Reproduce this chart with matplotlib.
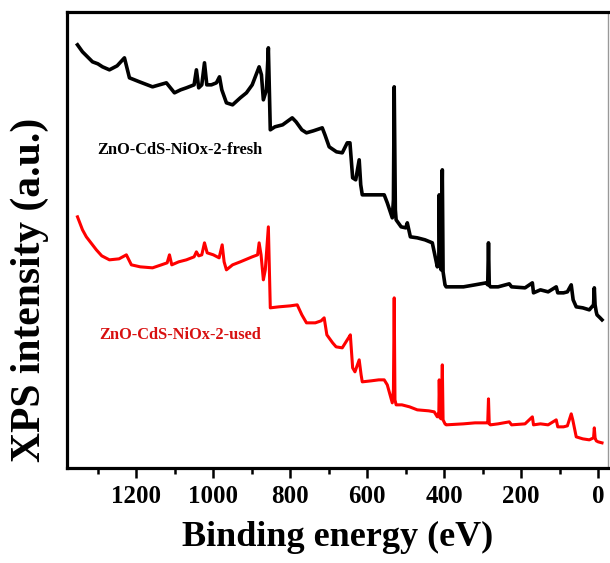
import matplotlib
matplotlib.use("Agg")
import matplotlib.pyplot as plt
from matplotlib.ticker import MultipleLocator

plt.rcParams['font.family'] = ['Liberation Serif', 'DejaVu Serif']
plt.rcParams['font.weight'] = 'bold'

# survey spectra (binding energy in eV, intensity in a.u.)
fresh_ev = [1353, 1340, 1314, 1300, 1288, 1270, 1250, 1231, 1218, 1192, 1158, 1140,
            1122, 1101, 1085, 1070, 1050, 1044, 1038, 1030, 1023, 1017, 1005, 992,
            984, 978, 966, 950, 930, 914, 899, 881, 875, 870, 862, 857, 852, 840,
            820, 795, 785, 770, 758, 740, 717, 710, 699, 680, 665, 652, 645, 638,
            630, 621, 617, 613, 590, 570, 556, 548, 535, 532, 530, 527, 525, 512,
            500, 496, 488, 470, 450, 431, 418, 414, 413, 411, 408, 405, 403, 398,
            395, 350, 320, 291, 287, 285, 283, 280, 260, 231, 225, 190, 171, 168,
            150, 130, 109, 105, 90, 80, 70, 65, 57, 40, 23, 12, 10, 8, 5, 3, -5, -10]
fresh_px = [45, 52, 62, 64, 67, 70, 66, 58, 78, 82, 87, 85,
            83, 93, 90, 88, 85, 70, 88, 85, 63, 85, 85, 83,
            77, 90, 103, 105, 98, 93, 85, 67, 75, 100, 90, 48, 130, 127,
            125, 118, 122, 130, 133, 131, 128, 135, 147, 152, 153, 143, 143, 178,
            180, 160, 185, 195, 195, 195, 195, 203, 218, 200, 87, 210, 220, 227,
            228, 223, 237, 238, 240, 243, 267, 260, 195, 265, 270, 170, 272, 285,
            287, 287, 285, 283, 285, 243, 285, 287, 287, 284, 287, 288, 283, 293,
            290, 292, 287, 293, 293, 292, 285, 300, 307, 308, 310, 305, 288, 305, 312, 315, 318, 320]

used_ev = [1353, 1340, 1330, 1304, 1290, 1270, 1245, 1226, 1213, 1190, 1158, 1135,
           1120, 1114, 1108, 1090, 1070, 1050, 1044, 1038, 1030, 1023, 1016, 1000,
           985, 977, 972, 966, 950, 930, 899, 885, 881, 876, 870, 865, 857, 852,
           830, 800, 782, 770, 758, 735, 720, 712, 705, 690, 681, 665, 652, 647,
           644, 638, 632, 621, 616, 613, 590, 570, 556, 548, 535, 532, 530, 528,
           525, 510, 490, 470, 440, 426, 418, 414, 413, 411, 408, 405, 403, 398,
           395, 350, 320, 291, 287, 285, 283, 280, 260, 231, 225, 190, 171, 168,
           150, 130, 109, 105, 90, 80, 70, 66, 57, 40, 23, 12, 10, 8, 5, 0, -10]
used_px = [217, 230, 237, 250, 256, 260, 259, 255, 265, 267, 268, 265,
           263, 255, 265, 262, 260, 257, 252, 256, 255, 243, 253, 255,
           258, 245, 262, 270, 265, 262, 257, 255, 243, 255, 280, 270, 227, 308,
           307, 306, 305, 315, 323, 323, 321, 318, 335, 343, 347, 348, 340, 337,
           335, 368, 372, 360, 375, 382, 381, 380, 380, 385, 403, 390, 298, 400,
           405, 405, 407, 410, 411, 412, 417, 412, 380, 418, 419, 365, 420, 424,
           425, 424, 423, 423, 423, 399, 424, 425, 424, 422, 425, 424, 417, 425,
           424, 425, 420, 427, 427, 426, 414, 420, 437, 439, 440, 438, 428, 438, 441, 442, 443]

# intensity counted upward from the bottom frame
fresh_int = [468 - v for v in fresh_px]
used_int = [468 - v for v in used_px]

fig = plt.figure(figsize=(6.10, 5.63), dpi=100)
ax = fig.add_axes([0.110, 0.169, 0.887, 0.810])

ax.plot(fresh_ev, fresh_int, color='black', lw=2.6)
ax.plot(used_ev, used_int, color='#ff0000', lw=2.2)

ax.text(1301, 468 - 150, 'ZnO-CdS-NiOx-2-fresh', color='black', fontsize=11.8,
        fontweight='bold', va='center', ha='left')
ax.text(1296, 468 - 335, 'ZnO-CdS-NiOx-2-used', color='#d81010', fontsize=11.8,
        fontweight='bold', va='center', ha='left')

ax.set_xlim(1380, -26)
ax.set_ylim(0, 456)
ax.xaxis.set_major_locator(MultipleLocator(200))
ax.xaxis.set_minor_locator(MultipleLocator(100))
ax.set_yticks([])

ax.tick_params(axis='x', which='major', direction='out', length=7, width=1.8,
               labelsize=18, pad=5)
ax.tick_params(axis='x', which='minor', direction='out', length=4, width=1.8)
for lab in ax.get_xticklabels():
    lab.set_fontweight('bold')

for side in ['left', 'bottom', 'top']:
    ax.spines[side].set_linewidth(2.3)
ax.spines['right'].set_linewidth(1.0)
ax.spines['right'].set_color('#999999')

ax.set_xlabel('Binding energy (eV)', fontsize=26, fontweight='bold', labelpad=10)
ax.set_ylabel('XPS intensity (a.u.)', fontsize=30, fontweight='bold')
ax.yaxis.set_label_coords(-0.033, 0.39)

fig.savefig('out.png', dpi=100)
